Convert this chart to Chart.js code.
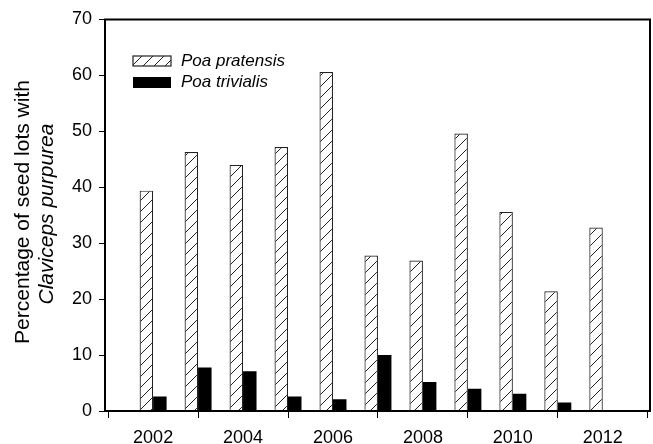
<!DOCTYPE html>
<html>
<head>
<meta charset="utf-8">
<script src="https://cdn.jsdelivr.net/npm/chart.js@4.4.0/dist/chart.umd.min.js"></script>
<style>
  html, body { margin: 0; padding: 0; background: #fff; }
  #box { width: 653px; height: 444px; position: relative; }
</style>
</head>
<body>
<div id="box"><canvas id="ergot"></canvas></div>
<script>
  // Data block
  const years      = [2002, 2003, 2004, 2005, 2006, 2007, 2008, 2009, 2010, 2011, 2012];
  const pratensis  = [39.4, 46.3, 44.0, 47.2, 60.6, 27.8, 26.9, 49.6, 35.6, 21.4, 32.8];
  const trivialis  = [2.6, 7.8, 7.1, 2.6, 2.1, 10.0, 5.2, 4.0, 3.1, 1.5, null];
  const seriesNames = ['Poa pratensis', 'Poa trivialis'];
  const yTitle = ['Percentage of seed lots with', 'Claviceps purpurea'];

  const FONT = "'Liberation Sans', Arial, sans-serif";

  // hatch pattern "/"
  function makeHatch() {
    const s = 11;
    const c = document.createElement('canvas');
    c.width = s; c.height = s;
    const g = c.getContext('2d');
    g.fillStyle = '#fff';
    g.fillRect(0, 0, s, s);
    g.strokeStyle = '#222';
    g.lineWidth = 1;
    g.beginPath();
    g.moveTo(0, s); g.lineTo(s, 0);
    g.moveTo(-1, 1); g.lineTo(1, -1);
    g.moveTo(s - 1, s + 1); g.lineTo(s + 1, s - 1);
    g.stroke();
    return g.createPattern(c, 'repeat');
  }
  const hatch = makeHatch();

  const toPoints = (arr) => years.map((yr, i) => ({ x: yr, y: arr[i] }));

  // frame + legend + y title
  const decorations = {
    id: 'decorations',
    afterDraw(chart) {
      const { ctx, chartArea: a } = chart;
      ctx.save();
      ctx.strokeStyle = '#000';
      ctx.lineWidth = 2;
      ctx.strokeRect(a.left, a.top, a.right - a.left, a.bottom - a.top);

      // legend
      ctx.fillStyle = hatch;
      ctx.fillRect(133, 56, 38, 10);
      ctx.strokeStyle = '#222';
      ctx.lineWidth = 1.2;
      ctx.strokeRect(133, 56, 38, 10);
      ctx.fillStyle = '#000';
      ctx.fillRect(133, 77, 38, 11);

      ctx.font = 'italic 17px ' + FONT;
      ctx.textBaseline = 'middle';
      ctx.textAlign = 'left';
      ctx.fillText(seriesNames[0], 181, 61);
      ctx.fillText(seriesNames[1], 181, 82);

      // y axis title
      ctx.textAlign = 'center';
      ctx.textBaseline = 'alphabetic';
      ctx.save();
      ctx.translate(29, 212);
      ctx.rotate(-Math.PI / 2);
      ctx.font = '21px ' + FONT;
      ctx.fillText(yTitle[0], 0, 0);
      ctx.restore();
      ctx.save();
      ctx.translate(53, 214);
      ctx.rotate(-Math.PI / 2);
      ctx.font = 'italic 21px ' + FONT;
      ctx.fillText(yTitle[1], 0, 0);
      ctx.restore();
      ctx.restore();
    }
  };

  const config = {
    type: 'bar',
    data: {
      datasets: [
        {
          label: seriesNames[0],
          data: toPoints(pratensis),
          backgroundColor: hatch,
          borderColor: '#222',
          borderWidth: 1.2,
        },
        {
          label: seriesNames[1],
          data: toPoints(trivialis),
          backgroundColor: '#000',
          borderColor: '#000',
          borderWidth: 0,
        }
      ]
    },
    options: {
      responsive: true,
      maintainAspectRatio: false,
      animation: false,
      datasets: {
        bar: { categoryPercentage: 0.6, barPercentage: 1.0 }
      },
      layout: { padding: { top: 19.5, right: 3, left: 0, bottom: 0 } },
      scales: {
        x: {
          type: 'linear',
          min: 2000.93,
          max: 2013.05,
          offset: false,
          border: { display: false },
          grid: { drawOnChartArea: false, drawTicks: true, tickLength: 7, color: '#000', lineWidth: 1 },
          ticks: {
            stepSize: 2,
            includeBounds: false,
            color: '#000',
            padding: 9,
            maxRotation: 0,
            font: { family: FONT, size: 18 },
            callback: (v) => String(v)
          },
          afterFit(scale) { scale.height = 33; }
        },
        y: {
          min: 0,
          max: 70,
          border: { display: false },
          grid: { drawOnChartArea: false, drawTicks: true, tickLength: 6, color: '#000', lineWidth: 1 },
          ticks: {
            stepSize: 10,
            color: '#000',
            padding: 7,
            font: { family: FONT, size: 18 }
          },
          afterFit(scale) { scale.width = 105; }
        }
      },
      plugins: {
        legend: { display: false },
        tooltip: { enabled: false }
      }
    },
    plugins: [decorations]
  };

  new Chart(document.getElementById('ergot'), config);
</script>
</body>
</html>
